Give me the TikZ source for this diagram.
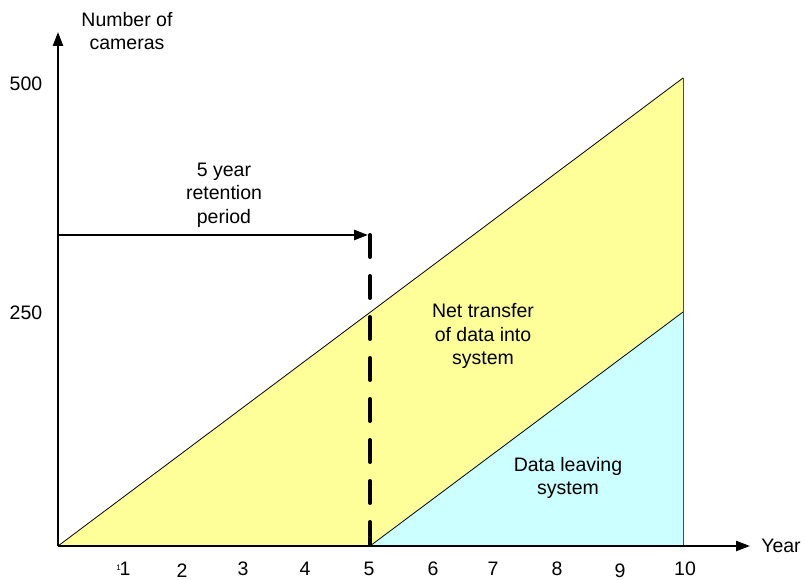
\documentclass[tikz,border=0pt]{standalone}
\usepackage{fontspec}
\setmainfont{Liberation Sans}
\usetikzlibrary{arrows.meta}
\definecolor{fillyellow}{HTML}{FFFF99}
\definecolor{fillcyan}{HTML}{CCFFFF}
\tikzset{
  lbl/.style={font=\fontsize{19.5}{23.5}\selectfont, align=center, inner sep=0pt},
  axisline/.style={line width=2.3pt, -{Triangle[length=14pt,width=10pt]}},
  thinedge/.style={line width=0.8pt, black},
}
\begin{document}
\begin{tikzpicture}[x=1pt,y=-1pt]
\useasboundingbox (0,0) rectangle (805,580);
% coordinates
\coordinate (O) at (58,546);
\coordinate (Top) at (683,78);
\coordinate (R) at (683,546);
\coordinate (Five) at (370,546);
\coordinate (Mid) at (683,312);
\coordinate (Ytip) at (58,32);
\coordinate (Xtip) at (750,546);
\coordinate (Rs) at (58,235);
\coordinate (Re) at (370,235);
% regions
\fill[fillyellow] (O) -- (Top) -- (R) -- cycle;
\fill[fillcyan] (Five) -- (Mid) -- (R) -- cycle;
\draw[thinedge] (O) -- (Top);
\draw[thinedge] (Five) -- (Mid);
\draw[line width=1pt, black!70] (Top) -- (R);
% dashed
\draw[line width=4pt, line cap=round, dash pattern=on 22pt off 19pt] (Re) -- (Five);
% axes
\draw[axisline] (O) -- (Xtip);
\draw[axisline] (O) -- (Ytip);
% retention arrow
\draw[line width=2.6pt, -{Triangle[length=14pt,width=10pt]}] (Rs) -- (368,235);
% labels
\node[lbl] (ylab) at (127,31) {Number of\\cameras};
\node[lbl] (xlab) at (781,546) {Year};
\node[lbl] (y500) at (26,84) {500};
\node[lbl] (y250) at (26,313) {250};
\node[lbl] (ret) at (224,195) {5 year\\retention\\period};
\node[lbl] (net) at (483,336) {Net transfer\\of data into\\system};
\node[lbl] (leave) at (568,478) {Data leaving\\system};
\node[lbl] (t1) at (125,569) {1};
\node[inner sep=0pt, font=\fontsize{8}{9}\selectfont] (t1s) at (118.5,568) {1};
\node[lbl] (t2) at (182,570.5) {2};
\node[lbl] (t3) at (243,569) {3};
\node[lbl] (t4) at (305,569) {4};
\node[lbl] (t5) at (369,569) {5};
\node[lbl] (t6) at (433,569) {6};
\node[lbl] (t7) at (493,569) {7};
\node[lbl] (t8) at (557,569) {8};
\node[lbl] (t9) at (620,570.5) {9};
\node[lbl] (t10) at (685,569) {10};
\end{tikzpicture}
\end{document}
